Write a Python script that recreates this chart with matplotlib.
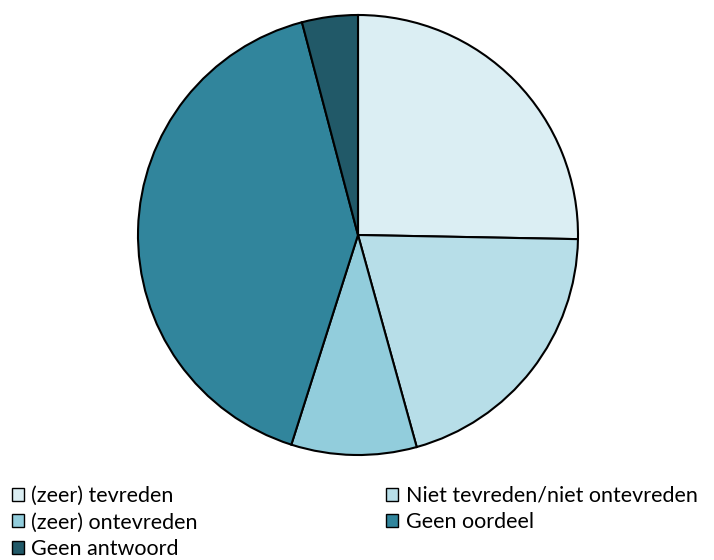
import matplotlib
matplotlib.use("Agg")
import matplotlib.pyplot as plt

labels = ['(zeer) tevreden', 'Niet tevreden/niet ontevreden', '(zeer) ontevreden',
          'Geen oordeel', 'Geen antwoord']
shares = [25.3, 20.4, 9.2, 41.0, 4.1]
colors = ['#DBEEF3', '#B7DEE8', '#92CDDC', '#31859C', '#215968']

plt.rcParams['font.family'] = ['Lato', 'DejaVu Sans']

fig = plt.figure(figsize=(7.14, 5.6), dpi=100)
ax = fig.add_axes([138 / 714, 105 / 560, 440 / 714, 440 / 560])
wedges, _ = ax.pie(shares, colors=colors, startangle=90, counterclock=False,
                   radius=1, wedgeprops=dict(edgecolor='black', linewidth=1.5))
ax.set_xlim(-1, 1)
ax.set_ylim(-1, 1)
ax.set_aspect('equal')
ax.axis('off')

# two columns, filled row by row
order = [0, 2, 4, 1, 3]
leg = fig.legend([wedges[i] for i in order], [labels[i] for i in order],
                 ncol=2, loc='upper left', bbox_to_anchor=(12 / 714, 1 - 486 / 560),
                 frameon=False, fontsize=15.5, handlelength=0.55, handleheight=0.55,
                 handletextpad=0.35, labelspacing=0.3, columnspacing=8.75,
                 borderaxespad=0, borderpad=0)
for h in leg.legend_handles:
    h.set_linewidth(1)

fig.savefig('out.png', dpi=100)
